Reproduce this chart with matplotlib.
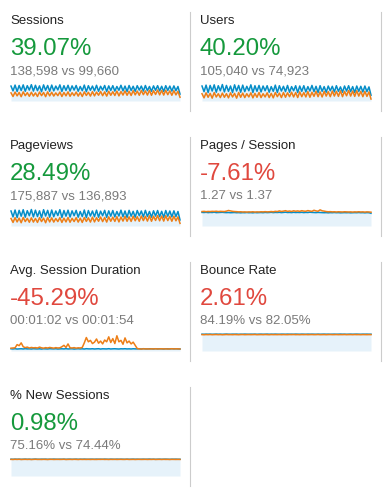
import matplotlib
matplotlib.use("Agg")
import matplotlib.pyplot as plt
from matplotlib.lines import Line2D

W, H = 387, 499

# metric headers
names = ["Sessions", "Users", "Pageviews", "Pages / Session",
         "Avg. Session Duration", "Bounce Rate", "% New Sessions"]
changes = ["39.07%", "40.20%", "28.49%", "-7.61%", "-45.29%", "2.61%", "0.98%"]
compare = ["138,598 vs 99,660", "105,040 vs 74,923", "175,887 vs 136,893",
           "1.27 vs 1.37", "00:01:02 vs 00:01:54", "84.19% vs 82.05%",
           "75.16% vs 74.44%"]
good = [True, True, True, False, False, False, True]

# sparkline series (current period = blue, previous period = orange)
sessions_cur = [530, 410, 555, 395, 545, 420, 560, 400, 540, 430, 565, 405,
                550, 415, 535, 390, 560, 425, 545, 400, 555, 410, 530, 435,
                560, 395, 540, 420, 550, 405, 535, 430, 545, 400, 520, 415,
                555, 390, 540, 425, 530, 410, 550, 400, 525, 430, 545, 395,
                535, 420, 540, 405, 520, 425, 550, 410, 530, 395, 545, 420,
                525, 400, 540, 430, 530, 405, 545, 415, 520, 400, 535, 425,
                540, 410, 525, 395, 540, 420, 530, 405, 535, 415, 520, 330]
sessions_prev = [360, 270, 380, 285, 370, 265, 385, 290, 365, 275, 375, 280,
                 360, 270, 380, 290, 370, 265, 385, 285, 375, 280, 360, 290,
                 380, 270, 370, 285, 385, 275, 365, 290, 380, 280, 370, 270,
                 385, 295, 375, 280, 390, 285, 380, 300, 395, 290, 385, 280,
                 400, 300, 390, 295, 405, 285, 395, 305, 410, 300, 400, 295,
                 415, 310, 405, 300, 420, 315, 410, 305, 425, 300, 415, 320,
                 430, 310, 420, 305, 425, 315, 410, 300, 415, 310, 400, 250]

users_cur = [410, 315, 425, 300, 420, 325, 430, 305, 415, 330, 435, 310,
             420, 320, 410, 300, 430, 325, 420, 305, 425, 315, 405, 330,
             430, 300, 415, 320, 420, 310, 410, 330, 415, 305, 400, 320,
             425, 300, 415, 325, 405, 315, 420, 305, 400, 330, 415, 300,
             410, 320, 415, 310, 400, 325, 420, 315, 405, 300, 415, 320,
             400, 305, 410, 330, 405, 310, 415, 320, 395, 305, 410, 325,
             415, 315, 400, 300, 410, 320, 405, 310, 410, 315, 395, 255]
users_prev = [280, 210, 295, 220, 285, 205, 300, 225, 280, 215, 290, 220,
              280, 210, 295, 225, 285, 205, 300, 220, 290, 215, 280, 225,
              295, 210, 285, 220, 300, 215, 280, 225, 295, 215, 285, 210,
              300, 230, 290, 215, 300, 220, 295, 230, 305, 225, 300, 215,
              310, 230, 300, 225, 315, 220, 305, 235, 320, 230, 310, 225,
              320, 240, 315, 230, 325, 240, 320, 235, 330, 230, 320, 245,
              335, 240, 325, 235, 330, 240, 320, 230, 320, 235, 310, 190]

pageviews_cur = [720, 540, 750, 520, 740, 560, 760, 530, 730, 575, 765, 540,
                 745, 550, 725, 515, 760, 565, 740, 530, 750, 545, 720, 580,
                 760, 520, 735, 560, 745, 535, 725, 575, 740, 530, 705, 550,
                 750, 515, 735, 565, 720, 545, 745, 530, 715, 575, 740, 525,
                 725, 560, 735, 540, 705, 565, 745, 545, 720, 525, 740, 560,
                 710, 530, 735, 575, 720, 540, 740, 550, 705, 530, 725, 565,
                 735, 545, 710, 525, 735, 560, 720, 540, 725, 550, 705, 445]
pageviews_prev = [490, 370, 515, 385, 500, 360, 520, 395, 495, 375, 510, 380,
                  490, 370, 515, 395, 500, 360, 520, 385, 510, 380, 490, 395,
                  515, 370, 500, 385, 520, 375, 495, 395, 515, 380, 500, 370,
                  520, 400, 510, 380, 530, 385, 515, 405, 535, 395, 520, 380,
                  540, 405, 530, 400, 545, 385, 535, 410, 555, 405, 540, 400,
                  560, 420, 545, 405, 565, 425, 555, 410, 570, 405, 560, 430,
                  580, 420, 565, 410, 575, 425, 555, 405, 560, 420, 540, 340]

pps_cur = [1.28, 1.27, 1.29, 1.26, 1.28, 1.27, 1.30, 1.26, 1.27, 1.28, 1.29, 1.27,
           1.26, 1.27, 1.25, 1.26, 1.27, 1.25, 1.26, 1.24, 1.26, 1.25, 1.27, 1.25,
           1.26, 1.24, 1.27, 1.25, 1.26, 1.27, 1.25, 1.28, 1.26, 1.27, 1.29, 1.26,
           1.28, 1.27, 1.29, 1.26, 1.28, 1.30, 1.27, 1.28, 1.26, 1.29, 1.27, 1.28,
           1.27, 1.29, 1.26, 1.28, 1.27, 1.30, 1.28, 1.27, 1.26, 1.28, 1.27, 1.26,
           1.25, 1.26, 1.24, 1.26, 1.25, 1.27, 1.25, 1.26, 1.24, 1.25, 1.26, 1.25,
           1.26, 1.24, 1.25, 1.26, 1.25, 1.27, 1.25, 1.26, 1.24, 1.26, 1.25, 1.20]
pps_prev = [1.36, 1.38, 1.35, 1.37, 1.36, 1.38, 1.37, 1.39, 1.36, 1.38, 1.37, 1.36,
            1.40, 1.46, 1.42, 1.38, 1.36, 1.35, 1.33, 1.34, 1.32, 1.33, 1.31, 1.33,
            1.32, 1.34, 1.31, 1.33, 1.32, 1.34, 1.33, 1.35, 1.33, 1.34, 1.36, 1.34,
            1.38, 1.36, 1.42, 1.37, 1.40, 1.44, 1.38, 1.41, 1.37, 1.43, 1.39, 1.42,
            1.38, 1.44, 1.40, 1.39, 1.45, 1.41, 1.38, 1.48, 1.42, 1.39, 1.52, 1.43,
            1.40, 1.36, 1.34, 1.35, 1.33, 1.34, 1.32, 1.34, 1.33, 1.32, 1.34, 1.33,
            1.32, 1.33, 1.31, 1.33, 1.32, 1.34, 1.32, 1.33, 1.31, 1.33, 1.32, 1.30]

duration_cur = [62, 58, 65, 55, 60, 63, 57, 66, 59, 61, 56, 64,
                60, 58, 62, 55, 63, 60, 57, 65, 61, 59, 64, 56,
                60, 62, 58, 66, 57, 61, 63, 55, 60, 64, 58, 62,
                56, 65, 60, 59, 63, 57, 61, 64, 55, 62, 60, 58,
                65, 57, 61, 63, 59, 56, 62, 60, 64, 58, 61, 57,
                63, 60, 59, 62, 56, 65, 60, 58, 63, 61, 57, 64,
                59, 62, 60, 56, 63, 61, 58, 64, 60, 62, 59, 57]
duration_prev = [80, 85, 90, 180, 150, 230, 120, 95, 110, 85, 100, 90,
                 95, 85, 110, 90, 80, 95, 85, 100, 90, 80, 95, 85,
                 90, 120, 160, 100, 200, 90, 85, 95, 80, 90, 85, 100,
                 230, 380, 260, 300, 210, 250, 340, 220, 280, 200, 310, 260,
                 400, 240, 350, 210, 430, 260, 300, 190, 370, 230, 280, 200,
                 250, 160, 70, 60, 55, 62, 58, 60, 56, 61, 58, 63,
                 57, 60, 62, 58, 61, 56, 60, 63, 58, 62, 60, 57]

bounce_cur = [84.3, 83.9, 84.5, 84.1, 84.6, 83.8, 84.2, 84.7, 84.0, 84.4, 83.7, 84.3,
              84.8, 84.1, 83.9, 84.5, 84.2, 84.6, 83.8, 84.3, 84.0, 84.7, 84.2, 83.9,
              84.4, 84.1, 84.6, 83.8, 84.3, 84.5, 84.0, 84.2, 84.7, 83.9, 84.4, 84.1,
              84.6, 84.2, 83.8, 84.5, 84.3, 84.0, 84.6, 84.1, 84.4, 83.9, 84.7, 84.2,
              84.0, 84.5, 84.3, 83.8, 84.6, 84.1, 84.4, 84.2, 83.9, 84.5, 84.0, 84.3,
              84.6, 84.1, 84.4, 83.9, 84.2, 84.5, 84.0, 84.3, 84.7, 84.1, 84.4, 83.8,
              84.2, 84.5, 84.0, 84.3, 84.6, 84.1, 83.9, 84.4, 84.2, 84.5, 84.0, 84.3]
bounce_prev = [82.1, 81.6, 82.4, 81.9, 82.6, 81.7, 82.2, 82.5, 81.8, 82.3, 81.5, 82.0,
               82.6, 81.9, 82.2, 81.7, 82.4, 82.0, 81.6, 82.3, 82.5, 81.8, 82.1, 82.4,
               81.9, 82.2, 82.6, 81.7, 82.0, 82.3, 81.8, 82.5, 82.1, 81.6, 82.4, 82.0,
               82.2, 81.9, 82.5, 81.7, 82.3, 82.0, 81.8, 82.4, 82.1, 82.6, 81.9, 82.2,
               81.7, 82.3, 82.0, 82.5, 81.8, 82.2, 82.4, 81.9, 82.1, 82.6, 81.8, 82.0,
               82.3, 81.7, 82.2, 82.5, 81.9, 82.1, 82.4, 81.8, 82.2, 82.0, 82.5, 81.9,
               82.1, 82.3, 81.8, 82.4, 82.0, 82.2, 81.7, 82.3, 82.1, 81.9, 82.2, 82.0]

new_cur = [75.3, 74.9, 75.6, 75.1, 75.5, 74.8, 75.2, 75.7, 75.0, 75.4, 74.7, 75.3,
           75.8, 75.1, 74.9, 75.5, 75.2, 75.6, 74.8, 75.3, 75.0, 75.7, 75.2, 74.9,
           75.4, 75.1, 75.6, 74.8, 75.3, 75.5, 75.0, 75.2, 75.7, 74.9, 75.4, 75.1,
           75.6, 75.2, 74.8, 75.5, 75.3, 75.0, 75.6, 75.1, 75.4, 74.9, 75.7, 75.2,
           75.0, 75.5, 75.3, 74.8, 75.6, 75.1, 75.4, 75.2, 74.9, 75.5, 75.0, 75.3,
           75.6, 75.1, 75.4, 74.9, 75.2, 75.5, 75.0, 75.3, 75.7, 75.1, 75.4, 74.8,
           75.2, 75.5, 75.0, 75.3, 75.6, 75.1, 74.9, 75.4, 75.2, 75.5, 75.0, 75.1]
new_prev = [74.5, 74.1, 74.8, 74.3, 74.9, 74.0, 74.4, 74.7, 74.2, 74.6, 73.9, 74.4,
            74.9, 74.2, 74.5, 74.0, 74.7, 74.3, 73.9, 74.6, 74.8, 74.1, 74.4, 74.7,
            74.2, 74.5, 74.9, 74.0, 74.3, 74.6, 74.1, 74.8, 74.4, 73.9, 74.7, 74.3,
            74.5, 74.2, 74.8, 74.0, 74.6, 74.3, 74.1, 74.7, 74.4, 74.9, 74.2, 74.5,
            74.0, 74.6, 74.3, 74.8, 74.1, 74.5, 74.7, 74.2, 74.4, 74.9, 74.1, 74.3,
            74.6, 74.0, 74.5, 74.8, 74.2, 74.4, 74.7, 74.1, 74.5, 74.3, 74.8, 74.2,
            74.4, 74.6, 74.1, 74.7, 74.3, 74.5, 74.0, 74.6, 74.4, 74.2, 74.5, 74.3]

series = [(sessions_cur, sessions_prev), (users_cur, users_prev),
          (pageviews_cur, pageviews_prev), (pps_cur, pps_prev),
          (duration_cur, duration_prev), (bounce_cur, bounce_prev),
          (new_cur, new_prev)]
ylims = [(157, 582), (157, 444), (260, 781), (0, 1.6), (0, 480), (0, 85.2), (0, 76.2)]

BLUE = "#058dc7"
ORANGE = "#ed7e17"
FILL = "#e6f2fa"
GREEN = "#15993c"
RED = "#e0483e"
FONT = "Liberation Sans"

fig = plt.figure(figsize=(W / 100, H / 100), dpi=100)
fig.patch.set_facecolor("white")


def fy(y):
    return 1 - y / H


for i in range(len(names)):
    row, col = divmod(i, 2)
    dy = row * 125
    tx = [10, 200][col]
    sx = [11, 202][col]

    fig.text(tx / W, fy(24 + dy), names[i], fontsize=9.5, color="#222222",
             family=FONT, va="baseline")
    fig.text(tx / W, fy(55 + dy), changes[i], fontsize=17.3,
             color=GREEN if good[i] else RED, family=FONT, va="baseline")
    fig.text(tx / W, fy(74 + dy), compare[i], fontsize=9.5, color="#7a7a7a",
             family=FONT, va="baseline")

    cur, prev = series[i]
    ax = fig.add_axes([sx / W, fy(101 + dy), 169 / W, 17 / H])
    x = list(range(len(cur)))
    ax.fill_between(x, cur, ylims[i][0], color=FILL, lw=0)
    ax.plot(x, cur, color=BLUE, lw=1.1, clip_on=False)
    ax.plot(x, prev, color=ORANGE, lw=1.1, clip_on=False)
    ax.set_xlim(0, len(cur) - 1)
    ax.set_ylim(*ylims[i])
    ax.axis("off")

    # grey divider to the right of each card
    dx = [189.5, 380.5][col]
    fig.add_artist(Line2D([dx / W, dx / W], [fy(12 + dy), fy(111 + dy)],
                          color="#cccccc", lw=0.8))

plt.savefig("out.png", dpi=100)
